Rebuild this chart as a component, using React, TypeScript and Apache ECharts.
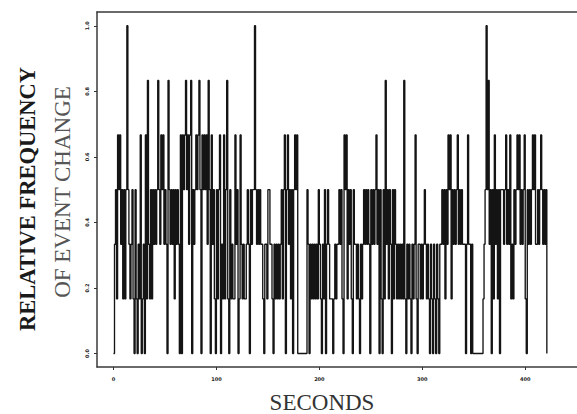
import React, { useEffect, useRef } from "react";
import * as echarts from "echarts";

// Relative frequency of event change, read per second as sixths (0..6)
const levels000 = [0,2,3,1,4,3,4,2,3,1, 3,1,3,6,3,2,1,2,3,1, 0,3,1,0,2,1,4,0,1,2, 0,4,1,5,2,1,3,1,3,2, 3,2,3,5,3,2,4,3,4,2];
const levels050 = [3,2,0,5,3,2,3,2,3,1, 3,2,3,2,0,4,0,4,3,4, 5,3,4,2,4,5,0,3,2,3, 4,3,4,5,3,0,4,3,4,3, 4,2,5,3,0,4,2,3,1,0];
const levels100 = [3,1,3,4,0,2,1,4,1,3, 5,1,0,3,1,2,1,1,4,2, 3,0,1,4,2,1,2,1,1,2, 3,2,0,3,2,3,3,6,3,2, 3,2,3,2,2,1,0,2,2,1];
const levels150 = [3,3,2,2,1,0,2,1,2,1, 2,1,2,3,1,3,4,0,3,4, 2,3,1,3,0,3,4,3,4,0, 0,0,0,0,0,0,0,0,3,2, 0,2,1,2,1,2,1,2,1,3];
const levels200 = [2,1,0,2,1,3,0,2,3,2, 1,1,1,0,1,2,1,2,2,3, 2,3,1,0,4,3,4,1,3,2, 3,1,0,3,2,2,1,2,1,0, 2,1,2,3,2,3,2,3,2,0];
const levels250 = [3,2,3,2,3,4,2,3,0,3, 1,0,3,1,5,2,3,1,3,2, 0,3,1,3,2,1,2,1,2,1, 2,1,5,1,0,2,1,2,1,0, 2,1,2,4,1,0,2,2,1,2];
const levels300 = [1,2,3,2,1,2,1,0,2,1, 0,2,1,0,2,1,0,2,2,3, 2,3,1,3,2,4,3,4,1,3, 2,3,2,3,4,2,3,2,3,2, 2,2,0,2,4,2,2,0,2,0];
const levels350 = [0,0,0,0,0,0,0,0,0,1, 2,3,6,3,5,2,3,0,3,1, 4,2,3,1,3,0,3,3,3,2, 3,4,2,3,2,4,1,2,1,3, 2,3,4,3,4,2,3,2,3,4];
const levels400 = [1,0,3,2,3,2,3,4,3,4, 2,2,3,2,3,4,3,2,3,2, 3,0];

const xTicks = [0, 100, 200, 300, 400];
const yTicks = [0, 0.2, 0.4, 0.6, 0.8, 1.0];

const yTitle1 = "RELATIVE FREQUENCY";
const yTitle2 = "OF EVENT CHANGE";
const xTitle = "SECONDS";

export default function App() {
  const ref = useRef<HTMLDivElement>(null);
  useEffect(() => {
    if (!ref.current) return;
    const chart = echarts.init(ref.current, null, { renderer: "svg" });
    const levels = [
      ...levels000, ...levels050, ...levels100, ...levels150, ...levels200,
      ...levels250, ...levels300, ...levels350, ...levels400,
    ];
    const data = levels.map((lv, i) => [i, lv / 6]);
    const frame = { show: true, onZero: false, lineStyle: { color: "#3a3a3a", width: 1.5 } };
    chart.setOption({
      animation: false,
      backgroundColor: "#ffffff",
      grid: { left: 97, top: 12, width: 499, height: 355 },
      xAxis: [
        {
          type: "value",
          min: -16,
          max: 450.3,
          axisLine: frame,
          splitLine: { show: false },
          axisTick: {
            show: true,
            customValues: xTicks,
            length: 3,
            lineStyle: { color: "#333", width: 1 },
          },
          axisLabel: {
            customValues: xTicks,
            fontSize: 5,
            fontWeight: "bold",
            color: "#222",
            margin: 9,
            fontFamily: "DejaVu Sans",
          },
        },
        {
          type: "value",
          position: "top",
          min: -16,
          max: 450.3,
          axisLine: frame,
          splitLine: { show: false },
          axisTick: { show: false },
          axisLabel: { show: false },
        },
      ],
      yAxis: {
        type: "value",
        min: -0.0412,
        max: 1.0421,
        axisLine: frame,
        splitLine: { show: false },
        axisTick: {
          show: true,
          customValues: yTicks,
          length: 3,
          lineStyle: { color: "#333", width: 1 },
        },
        axisLabel: {
          customValues: yTicks,
          fontSize: 5,
          fontWeight: "bold",
          color: "#222",
          margin: 8,
          rotate: 90,
          fontFamily: "DejaVu Sans",
          formatter: (v: number) => v.toFixed(1),
        },
      },
      graphic: [
        {
          type: "text",
          x: 27,
          y: 199,
          rotation: Math.PI / 2,
          style: {
            text: yTitle1,
            font: "bold 22.5px 'Liberation Serif'",
            fill: "#1a1a1a",
            textAlign: "center",
            textVerticalAlign: "middle",
            align: "center",
            verticalAlign: "middle",
          },
        },
        {
          type: "text",
          x: 62,
          y: 192,
          rotation: Math.PI / 2,
          style: {
            text: yTitle2,
            font: "23px 'Liberation Serif'",
            fill: "#555",
            textAlign: "center",
            textVerticalAlign: "middle",
            align: "center",
            verticalAlign: "middle",
          },
        },
        {
          type: "text",
          x: 322,
          y: 402,
          style: {
            text: xTitle,
            font: "23px 'Liberation Serif'",
            fill: "#333",
            textAlign: "center",
            textVerticalAlign: "middle",
            align: "center",
            verticalAlign: "middle",
          },
        },
      ],
      series: [
        {
          type: "line",
          xAxisIndex: 0,
          data,
          step: "end",
          showSymbol: false,
          symbol: "none",
          lineStyle: { width: 1.35, color: "#141414" },
        },
      ],
    });
    return () => chart.dispose();
  }, []);
  return (
    <div
      ref={ref}
      style={{ position: "absolute", left: 0, top: 0, width: 577, height: 414, background: "#fff" }}
    />
  );
}
